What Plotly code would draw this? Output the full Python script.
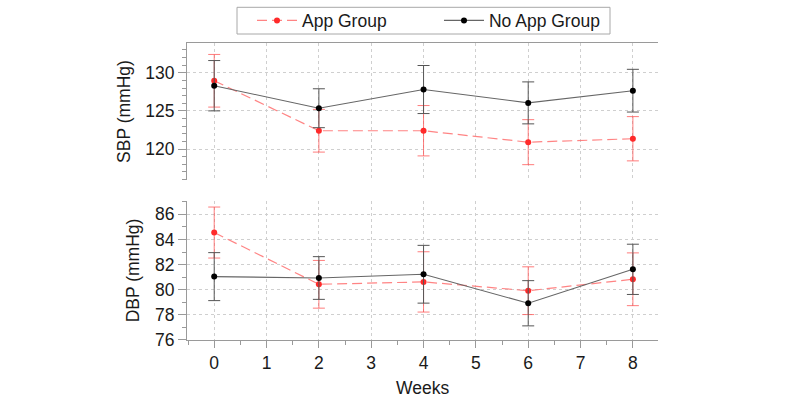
import plotly.graph_objects as go

weeks = [0, 2, 4, 6, 8]

sbp_app = [128.95, 122.4, 122.4, 120.9, 121.35]
sbp_app_err = [3.45, 2.8, 3.3, 2.95, 2.9]
sbp_noapp = [128.3, 125.35, 127.8, 126.05, 127.65]
sbp_noapp_err = [3.3, 2.55, 3.15, 2.75, 2.8]

dbp_app = [84.55, 80.43, 80.62, 79.92, 80.83]
dbp_app_err = [2.03, 1.9, 2.4, 1.9, 2.1]
dbp_noapp = [81.04, 80.93, 81.23, 78.92, 81.62]
dbp_noapp_err = [1.91, 1.7, 2.3, 1.8, 2.0]

group_names = ["App Group", "No App Group"]
x_tick_vals = [0, 1, 2, 3, 4, 5, 6, 7, 8]
x_title = "Weeks"

FONT = "Liberation Sans, Arial, Helvetica, sans-serif"
RED_LINE = "rgba(255,110,110,0.85)"
RED_MARK = "#ff2a2a"
RED_ERR = "rgba(255,80,80,0.75)"
BLK_LINE = "#666666"
BLK_MARK = "#000000"
BLK_ERR = "#555555"
AXC = "#9a9a9a"
GRIDC = "#cfcfcf"

fig = go.Figure()


def add_pair(x, y_app, e_app, y_no, e_no, xa, ya, show):
    fig.add_trace(go.Scatter(
        x=x, y=y_app, name=group_names[0], mode="lines+markers",
        xaxis=xa, yaxis=ya, showlegend=show, legendgroup="app",
        line=dict(color=RED_LINE, width=1.2, dash="10px,5px"),
        marker=dict(color=RED_MARK, size=6),
        error_y=dict(type="data", array=e_app, visible=True,
                     color=RED_ERR, thickness=1, width=6),
    ))
    fig.add_trace(go.Scatter(
        x=x, y=y_no, name=group_names[1], mode="lines+markers",
        xaxis=xa, yaxis=ya, showlegend=show, legendgroup="noapp",
        line=dict(color=BLK_LINE, width=1.1),
        marker=dict(color=BLK_MARK, size=6),
        error_y=dict(type="data", array=e_no, visible=True,
                     color=BLK_ERR, thickness=1, width=6),
    ))


add_pair(weeks, sbp_app, sbp_app_err, sbp_noapp, sbp_noapp_err, "x2", "y", True)
add_pair(weeks, dbp_app, dbp_app_err, dbp_noapp, dbp_noapp_err, "x", "y2", False)

tickfont = dict(family=FONT, size=17.5, color="#1a1a1a")
titlefont = dict(family=FONT, size=17.5, color="#1a1a1a")

common_y = dict(
    showline=True, linecolor=AXC, linewidth=1,
    ticks="outside", ticklen=8, tickcolor=AXC, tickwidth=1,
    showgrid=True, gridcolor=GRIDC, griddash="dot", gridwidth=1,
    zeroline=False, tickfont=tickfont,
)

fig.update_layout(
    width=800, height=402,
    margin=dict(l=187, r=142, t=43, b=62, autoexpand=False),
    paper_bgcolor="white", plot_bgcolor="white",
    font=dict(family=FONT, size=17.5, color="#1a1a1a"),
    xaxis=dict(
        domain=[0, 1], anchor="y2", range=[-0.52, 8.48],
        tickmode="array", tickvals=x_tick_vals,
        showline=True, linecolor=AXC, linewidth=1,
        ticks="outside", ticklen=7, tickcolor=AXC,
        minor=dict(dtick=0.5, tick0=0, ticks="outside", ticklen=4, tickcolor=AXC, showgrid=False),
        showgrid=True, gridcolor=GRIDC, griddash="dot",
        zeroline=False, tickfont=tickfont,
    ),
    xaxis2=dict(
        domain=[0, 1], anchor="y", matches="x", side="top",
        showline=True, linecolor=AXC, linewidth=1,
        ticks="", showticklabels=False,
        showgrid=True, gridcolor=GRIDC, griddash="dot",
        tickmode="array", tickvals=x_tick_vals, zeroline=False,
    ),
    yaxis=dict(
        domain=[0.5387, 1], anchor="x2", range=[115.94, 133.9],
        dtick=5, tick0=0,
        minor=dict(dtick=1, tick0=0, ticks="outside", ticklen=4, tickcolor=AXC, showgrid=False),
        title=dict(text="SBP (mmHg)", font=titlefont, standoff=10),
        **common_y,
    ),
    yaxis2=dict(
        domain=[0, 0.468], anchor="x", range=[75.995, 87.06],
        dtick=2, tick0=0,
        minor=dict(dtick=1, tick0=0, ticks="outside", ticklen=4, tickcolor=AXC, showgrid=False),
        title=dict(text="DBP (mmHg)", font=titlefont, standoff=10),
        **common_y,
    ),
    legend=dict(
        orientation="h", x=0.535, xanchor="center",
        yref="container", y=1 - 20.5 / 402, yanchor="middle",
        borderwidth=0, bgcolor="rgba(0,0,0,0)",
        font=dict(family=FONT, size=17.5, color="#1a1a1a"),
        itemwidth=40,
        entrywidth=132, entrywidthmode="pixels",
        tracegroupgap=0,
    ),
    showlegend=True,
    shapes=[dict(
        type="rect", xref="paper", yref="paper",
        x0=(237 - 187) / 471, x1=(610 - 187) / 471,
        y0=(340 - 34) / 297, y1=(340 - 7.3) / 297,
        line=dict(color="#a8a8a8", width=1), fillcolor="rgba(0,0,0,0)",
        layer="above",
    )],
    annotations=[dict(
        text=x_title, xref="paper", yref="paper",
        x=0.5, y=(340 - 388) / 297, xanchor="center", yanchor="middle",
        showarrow=False, font=titlefont,
    )],
)

fig.write_html(
    "out.html",
    config={"displayModeBar": False},
    post_script="document.body.style.margin='0px';document.body.style.overflow='hidden';",
)
